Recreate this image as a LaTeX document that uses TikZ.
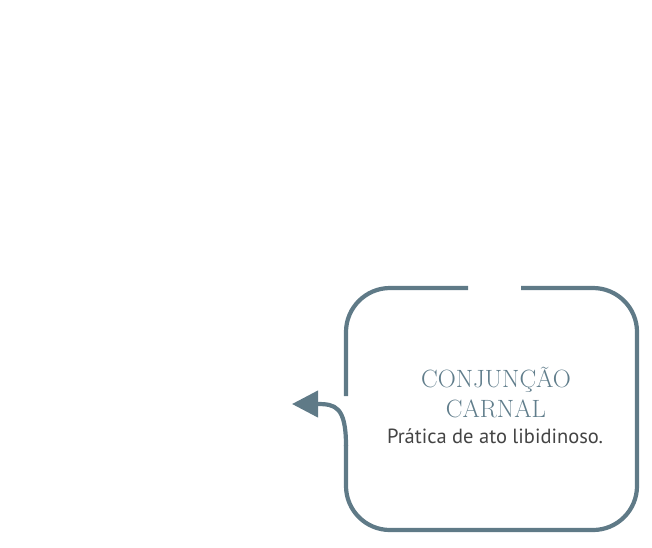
\documentclass[tikz,border=0pt]{standalone}
\usepackage{fontspec}
\newfontfamily\subfont{PT Sans}
\usetikzlibrary{arrows.meta}
\definecolor{slate}{HTML}{5F7A87}
\definecolor{titlecol}{HTML}{607D8B}
\definecolor{subcol}{HTML}{444444}
\begin{document}
\begin{tikzpicture}[x=1pt,y=-1pt,
  frame/.style={draw=slate,line width=4.2pt,line cap=butt},
  title/.style={text=titlecol,font=\fontsize{25}{30}\selectfont,align=center,inner sep=0pt},
  sub/.style={text=subcol,font=\subfont\fontsize{20.5}{24}\selectfont,inner sep=0pt}]
\useasboundingbox (0,0) rectangle (652,547);
\node[title,anchor=base] (t1) at (496,387) {CONJUNÇÃO};
\node[title,anchor=base] (t2) at (496,417) {CARNAL};
\node[sub,anchor=base] (s) at (495,443) {Prática de ato libidinoso.};
\coordinate (gapL) at (468,288);
\coordinate (gapR) at (521,288);
\coordinate (leftEnd) at (346,396);
\coordinate (tip) at (292,404);
\draw[frame,rounded corners=44pt] (gapL) -- (346,288) -- (leftEnd);
\draw[frame,rounded corners=44pt] (gapR) -- (637,288) -- (637,530) -- (346,530) -- (346,445);
\draw[frame,-{Triangle[length=26pt,width=26pt]}] (346,446) .. controls (346,406) and (335,404) .. (tip);
\end{tikzpicture}
\end{document}
